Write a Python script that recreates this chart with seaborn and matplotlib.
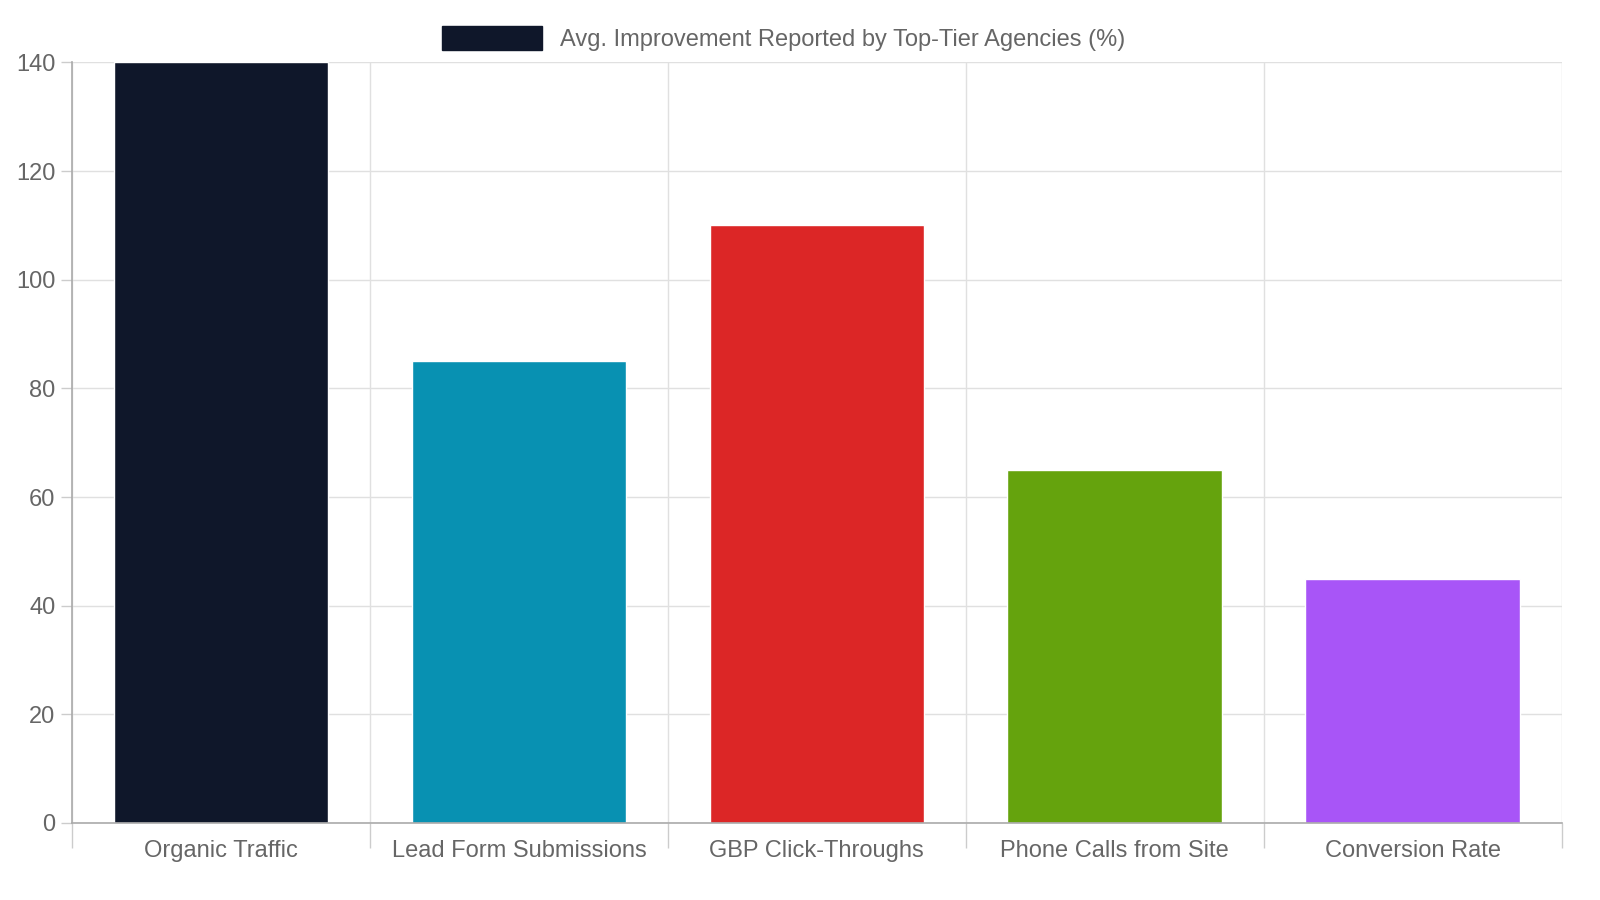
import matplotlib
matplotlib.use("Agg")
import matplotlib.pyplot as plt
import matplotlib.patches as mpatches
from matplotlib.ticker import FixedLocator, MultipleLocator
import seaborn as sns
import pandas as pd

categories = ["Organic Traffic", "Lead Form Submissions", "GBP Click-Throughs",
              "Phone Calls from Site", "Conversion Rate"]
values = [140, 85, 110, 65, 45]
colors = ["#0f172a", "#0891b2", "#dc2626", "#65a30d", "#a855f7"]
series_label = "Avg. Improvement Reported by Top-Tier Agencies (%)"

sns.set_theme(style="white")
plt.rcParams['font.family'] = ['Liberation Sans', 'DejaVu Sans']

df = pd.DataFrame({"cat": categories, "val": values})

fig = plt.figure(figsize=(16, 9), dpi=100)
ax = fig.add_axes([0.045, 0.0856, 0.931, 0.845])
sns.barplot(data=df, x="cat", y="val", hue="cat", palette=colors,
            legend=False, width=0.72, saturation=1, ax=ax)

ax.set_ylim(0, 140)
ax.set_xlim(-0.5, len(categories) - 0.5)
ax.yaxis.set_major_locator(MultipleLocator(20))
ax.xaxis.set_minor_locator(FixedLocator([i - 0.5 for i in range(len(categories) + 1)]))
ax.grid(axis="y", which="major", color="#e0e0e0", linewidth=1)
ax.grid(axis="x", which="minor", color="#e0e0e0", linewidth=1)
ax.set_axisbelow(True)
ax.tick_params(axis="x", which="major", bottom=False, length=0, pad=12,
               labelsize=17, labelcolor="#666666")
ax.tick_params(axis="x", which="minor", bottom=True, length=18, color="#cccccc", width=1)
ax.tick_params(axis="y", left=True, length=8, color="#cccccc", width=1,
               labelsize=17, labelcolor="#666666", pad=4)
ax.set_xlabel("")
ax.set_ylabel("")
for s in ["top", "right"]:
    ax.spines[s].set_visible(False)
for s in ["left", "bottom"]:
    ax.spines[s].set_color("#aaaaaa")
    ax.spines[s].set_linewidth(1.2)

handle = mpatches.Patch(color=colors[0], label=series_label)
fig.legend(handles=[handle], loc="upper center", bbox_to_anchor=(0.49, 0.995),
           frameon=False, fontsize=17, labelcolor="#666666",
           handlelength=4.2, handleheight=1.2)

fig.savefig("out.png", dpi=100)
